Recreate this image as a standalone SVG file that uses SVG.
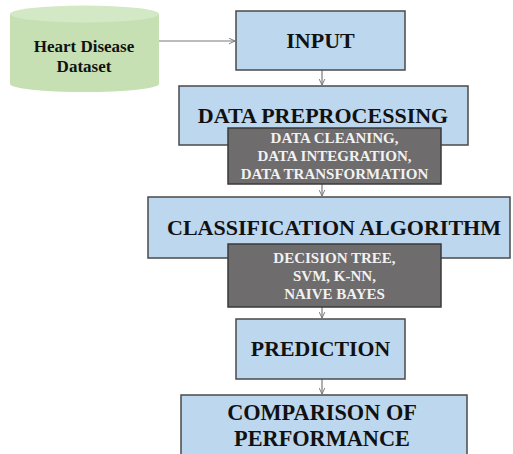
<svg xmlns="http://www.w3.org/2000/svg" width="513" height="454" viewBox="0 0 513 454">
  <defs>
    <marker id="arrow" viewBox="0 0 10 10" refX="9.5" refY="5" markerWidth="7" markerHeight="7" markerUnits="userSpaceOnUse" orient="auto">
      <path d="M1,1 L9.5,5 L1,9" fill="none" stroke="#7a7a7a" stroke-width="1.4"/>
    </marker>
  </defs>
  <style>
    .box { fill: #bdd7ee; stroke: #4a4a4a; stroke-width: 1.5; }
    .dark { fill: #6e6c6c; stroke: #3a3a3a; stroke-width: 1.5; }
    text { font-family: 'Liberation Serif', 'DejaVu Serif', serif; font-weight: bold; text-anchor: middle; }
    .title { fill: #111; }
    .sub { fill: #f2f2f2; font-size: 15px; }
    .link { fill: none; stroke: #7a7a7a; stroke-width: 1.2; marker-end: url(#arrow); }
  </style>
  <rect width="513" height="454" fill="#ffffff"/>

  <g id="connectors">
    <line class="link" x1="159" y1="41" x2="235" y2="41"/>
    <line class="link" x1="322" y1="70" x2="322" y2="85"/>
    <line class="link" x1="322" y1="184" x2="322" y2="196"/>
    <line class="link" x1="322" y1="307" x2="322" y2="318"/>
    <line class="link" x1="322" y1="379" x2="322" y2="394"/>
  </g>

  <g id="dataset">
    <path d="M10,14 L10,84 A74.5,8 0 0 0 159,84 L159,14 Z" fill="#c6e0b4"/>
    <ellipse cx="84.5" cy="14" rx="74.5" ry="8.5" fill="#d3e8c5"/>
    <text class="title" x="84" y="52" font-size="17">Heart Disease</text>
    <text class="title" x="84" y="72" font-size="17">Dataset</text>
  </g>

  <g id="input">
    <rect class="box" x="236" y="11" width="169" height="59"/>
    <text class="title" x="320.5" y="48" font-size="22">INPUT</text>
  </g>

  <g id="preprocessing">
    <rect class="box" x="179" y="86" width="289" height="59"/>
    <text class="title" x="323" y="123" font-size="22">DATA PREPROCESSING</text>
  </g>

  <g id="preprocessing-steps">
    <rect class="dark" x="228" y="128" width="213" height="56"/>
    <text class="sub" x="334.5" y="143">DATA CLEANING,</text>
    <text class="sub" x="334.5" y="161">DATA INTEGRATION,</text>
    <text class="sub" x="334.5" y="179">DATA TRANSFORMATION</text>
  </g>

  <g id="classification">
    <rect class="box" x="148" y="197" width="362" height="61"/>
    <text class="title" x="334" y="235" font-size="22">CLASSIFICATION ALGORITHM</text>
  </g>

  <g id="algorithms">
    <rect class="dark" x="228" y="244" width="213" height="63"/>
    <text class="sub" x="334.5" y="263">DECISION TREE,</text>
    <text class="sub" x="334.5" y="281">SVM, K-NN,</text>
    <text class="sub" x="334.5" y="299">NAIVE BAYES</text>
  </g>

  <g id="prediction">
    <rect class="box" x="236" y="319" width="169" height="60"/>
    <text class="title" x="320.5" y="356" font-size="21.8">PREDICTION</text>
  </g>

  <g id="comparison">
    <rect class="box" x="181" y="395" width="286" height="70"/>
    <text class="title" x="322" y="420" font-size="22.3">COMPARISON OF</text>
    <text class="title" x="322" y="446" font-size="22.3">PERFORMANCE</text>
  </g>
</svg>
